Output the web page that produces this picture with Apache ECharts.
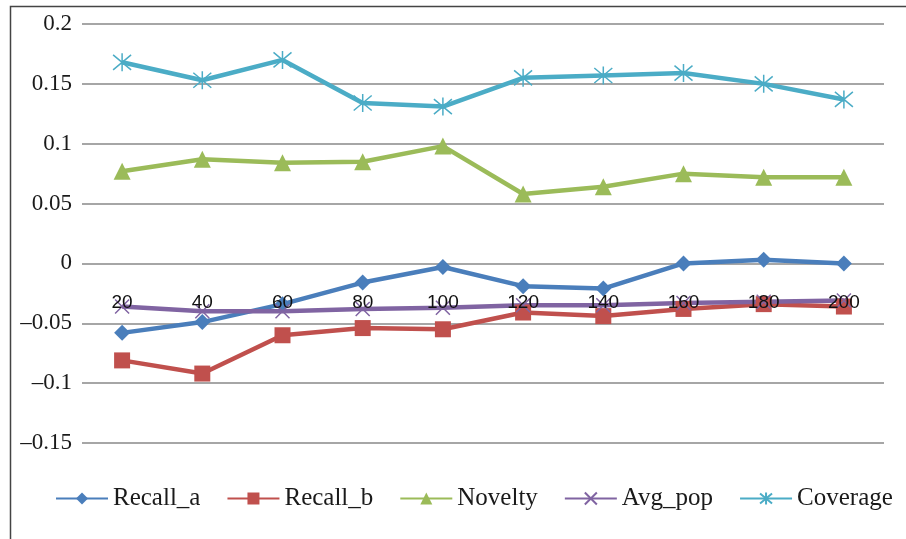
<!DOCTYPE html>
<html>
<head>
<meta charset="utf-8">
<script src="https://cdn.jsdelivr.net/npm/echarts@6/dist/echarts.min.js"></script>
<style>html,body{margin:0;padding:0;background:#fff}#c{width:906px;height:539px}</style>
</head>
<body>
<div id="c"></div>
<script>
var categories = ['20','40','60','80','100','120','140','160','180','200'];
var recallA = [-0.058,-0.049,-0.034,-0.016,-0.003,-0.019,-0.021,0.000,0.003,0.000];
var recallB = [-0.081,-0.092,-0.060,-0.054,-0.055,-0.041,-0.044,-0.038,-0.034,-0.036];
var novelty = [0.077,0.087,0.084,0.085,0.098,0.058,0.064,0.075,0.072,0.072];
var avgPop = [-0.036,-0.040,-0.040,-0.038,-0.037,-0.035,-0.035,-0.033,-0.032,-0.031];
var coverage = [0.168,0.153,0.170,0.134,0.131,0.155,0.157,0.159,0.150,0.137];
var yTicks = [-0.15,-0.1,-0.05,0,0.05,0.1,0.15,0.2];

var chart = echarts.init(document.getElementById('c'), null, {renderer:'canvas'});
function mk(name, data, color, symbol, size, stroke){
  var s = {
    name: name, type: 'line', data: data, symbol: symbol, symbolSize: size,
    lineStyle: {color: color, width: 4.5},
    itemStyle: {color: color},
    showAllSymbol: true
  };
  if (stroke) { s.itemStyle = {color: color, borderColor: color, borderWidth: 1.5}; }
  return s;
}
chart.setOption({
  animation: false,
  graphic: [{type:'rect', shape:{x:10.5,y:6.5,width:1000,height:1000}, style:{fill:'none', stroke:'#444', lineWidth:1.5}, z:-1}],
  grid: {left: 82, right: 22, top: 24, bottom: 96},
  legend: {
    left: 55, top: 486, padding: 0, itemWidth: 52, itemHeight: 15, itemGap: 26,
    textStyle: {fontFamily: 'Liberation Serif', fontSize: 25, color: '#1a1a1a'},
    data: ['Recall_a','Recall_b','Novelty','Avg_pop','Coverage']
  },
  xAxis: {
    type: 'category', data: categories, boundaryGap: true, z: 10, position: 'bottom', offset: -179.5,
    axisLine: {show: false, onZero: false}, axisTick: {show: false},
    axisLabel: {margin: 30, fontFamily: 'Liberation Sans', fontSize: 19, color: '#111'}
  },
  yAxis: {
    type: 'value', min: -0.15, max: 0.2, interval: 0.05,
    axisLine: {show: false}, axisTick: {show: false},
    splitLine: {lineStyle: {color: '#a6a6a6', width: 2}},
    axisLabel: {margin: 10, fontFamily: 'Liberation Serif', fontSize: 23, color: '#1a1a1a',
      formatter: function(v){ var r = Math.round(v*100)/100; return (r<0?'\u2013':'') + String(Math.abs(r)); }}
  },
  series: [
    mk('Recall_a', recallA, '#4a7ebb', 'diamond', 16),
    mk('Recall_b', recallB, '#c0504d', 'rect', 16),
    mk('Novelty', novelty, '#9bbb59', 'triangle', 17),
    mk('Avg_pop', avgPop, '#8064a2', 'path://M0,0L10,10M10,0L0,10', 14, true),
    mk('Coverage', coverage, '#4bacc6', 'path://M0,0L10,10M10,0L0,10M5,-1L5,11', 18, true)
  ]
});
</script>
</body>
</html>
